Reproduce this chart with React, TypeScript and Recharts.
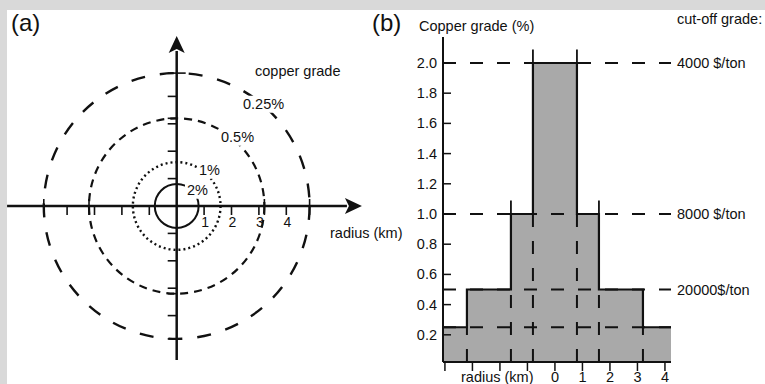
import React from "react"
import {
  Area,
  ComposedChart,
  ReferenceArea,
  ReferenceLine,
  Scatter,
  ScatterChart,
  XAxis,
  YAxis,
} from "recharts"

// (a) plan view: radius (km) where each grade shell ends, and its grade
const zoneRadius = [0.8, 1.6, 3.2, 4.85]
const zoneGrade = ["2%", "1%", "0.5%", "0.25%"]

// tick marks along both map axes (km)
const mapTicks = [-4.85, -4, -3.2, -3, -2, -1, 1, 2, 3, 3.2, 4, 4.85]
const mapTickLabels = [1, 2, 3, 4]

// (b) grade profile through the deposit centre
const profileRadius = [-4.07, -3.2, -1.6, -0.8, 0.8, 1.6, 3.2, 4.22]
const profileGrade = [0.25, 0.5, 1.0, 2.0, 1.0, 0.5, 0.25, 0.25]

// cut-off grades and the copper price that goes with them
const cutoffGrade = [2.0, 1.0, 0.5, 0.25]
const cutoffLabel = ["4000 $/ton", "8000 $/ton", "20000$/ton", ""]

const gradeTicks = [0.2, 0.4, 0.6, 0.8, 1.0, 1.2, 1.4, 1.6, 1.8, 2.0]
const radiusTicks = [-4, -3, -2, -1, 0, 1, 2, 3, 4]

const INK = "#111"
const FONT = "'Liberation Sans', Arial, sans-serif"
const FS = 14.5

const profileData = profileRadius.map((x, i) => ({ x, grade: profileGrade[i] }))
const tickData = [
  ...mapTicks.map((v) => ({ x: v, y: 0, axis: "x", v })),
  ...mapTicks.map((v) => ({ x: 0, y: v, axis: "y", v })),
]

const shellStyle = [
  { dash: undefined, width: 2 },
  { dash: "2 3", width: 2.4 },
  { dash: "8 6", width: 2.2 },
  { dash: "14 15", width: 2.4 },
]

function ArrowLine(p: any) {
  const { x1, y1, x2, y2 } = p
  const len = Math.hypot(x2 - x1, y2 - y1)
  const ux = (x2 - x1) / len
  const uy = (y2 - y1) / len
  const bx = x2 - ux * 17
  const by = y2 - uy * 17
  return (
    <g>
      <line x1={x1} y1={y1} x2={bx + ux * 2} y2={by + uy * 2} stroke={INK} strokeWidth={2.5} />
      <polygon
        points={`${x2},${y2} ${bx - uy * 8},${by + ux * 8} ${bx + ux * 4},${by + uy * 4} ${bx + uy * 8},${by - ux * 8}`}
        fill={INK}
      />
    </g>
  )
}

function MapTick(p: any) {
  const { cx, cy, payload } = p
  const crossing = zoneRadius.includes(Math.abs(payload.v))
  if (payload.axis === "x") {
    return (
      <g>
        <line x1={cx} x2={cx} y1={crossing ? cy - 7 : cy} y2={cy + 9} stroke={INK} strokeWidth={1.6} />
        {mapTickLabels.includes(payload.v) && (
          <text x={cx + 1} y={cy + 16} dy="0.35em" textAnchor="middle" fontSize={14} fill={INK} fontFamily={FONT}>
            {payload.v}
          </text>
        )}
      </g>
    )
  }
  return (
    <line x1={cx - 9} x2={crossing && payload.v > 4 ? cx + 9 : cx} y1={cy} y2={cy} stroke={INK} strokeWidth={1.6} />
  )
}

function GradeTick(p: any) {
  const { x, y, payload } = p
  return (
    <g>
      <line x1={x} x2={x + 8} y1={y} y2={y} stroke={INK} strokeWidth={1.5} />
      <text x={x - 6} y={y} dy="0.35em" textAnchor="end" fontSize={FS} fill={INK} fontFamily={FONT}>
        {Number(payload.value).toFixed(1)}
      </text>
    </g>
  )
}

function Note({
  x,
  y,
  size = FS,
  mask = false,
  children,
}: {
  x: number
  y: number
  size?: number
  mask?: boolean
  children: React.ReactNode
}) {
  return (
    <div
      style={{
        position: "absolute",
        left: x,
        top: y,
        transform: "translateY(-50%)",
        fontSize: size,
        lineHeight: 1,
        whiteSpace: "nowrap",
        color: INK,
        background: mask ? "#fff" : undefined,
        padding: mask ? "1px 2px" : undefined,
        marginLeft: mask ? -2 : undefined,
      }}
    >
      {children}
    </div>
  )
}

export default function App() {
  const yMin = 0.02
  const yMax = 2.172
  return (
    <div
      style={{
        position: "fixed",
        left: 0,
        top: 0,
        width: 765,
        height: 384,
        background: "#d9d9d9",
        fontFamily: FONT,
        overflow: "hidden",
      }}
    >
      <div style={{ position: "absolute", left: 7, top: 10, width: 758, height: 374, background: "#fff" }}>
        <div style={{ position: "absolute", left: 0, top: 0 }}>
          <ScatterChart width={370} height={374} margin={{ top: 0, right: 0, bottom: 0, left: 0 }}>
            <XAxis dataKey="x" type="number" domain={[-6.193, 7.31]} allowDataOverflow hide />
            <YAxis dataKey="y" type="number" domain={[-6.496, 7.153]} allowDataOverflow hide />
            {zoneRadius.map((r, i) => (
              <ReferenceArea
                key={r}
                x1={-r}
                x2={r}
                y1={-r}
                y2={r}
                shape={(s: any) => (
                  <ellipse
                    cx={s.x + s.width / 2}
                    cy={s.y + s.height / 2}
                    rx={Math.abs(s.width) / 2}
                    ry={Math.abs(s.height) / 2}
                    fill="none"
                    stroke={INK}
                    strokeWidth={shellStyle[i].width}
                    strokeDasharray={shellStyle[i].dash}
                  />
                )}
              />
            ))}
            <ReferenceLine
              segment={[{ x: -6.19, y: 0 }, { x: 6.76, y: 0 }]}
              ifOverflow="visible"
              shape={(s: any) => <ArrowLine {...s} />}
            />
            <ReferenceLine
              segment={[{ x: 0, y: -5.62 }, { x: 0, y: 6.2 }]}
              ifOverflow="visible"
              shape={(s: any) => <ArrowLine {...s} />}
            />
            <Scatter data={tickData} isAnimationActive={false} shape={(s: any) => <MapTick {...s} />} />
          </ScatterChart>
        </div>

        <div style={{ position: "absolute", left: 373, top: 0 }}>
          <ComposedChart width={385} height={374} data={profileData} margin={{ top: 27, right: 94, bottom: 0, left: 0 }}>
            <XAxis
              dataKey="x"
              type="number"
              domain={[-4.07, 4.22]}
              allowDataOverflow
              ticks={radiusTicks}
              interval={0}
              height={22}
              tickSize={9}
              tickMargin={1}
              tickFormatter={(v: number) => (v >= 0 ? String(v) : "")}
              tick={{ fill: INK, fontSize: FS, fontFamily: FONT }}
              tickLine={{ stroke: INK, strokeWidth: 1.5 }}
              axisLine={{ stroke: INK, strokeWidth: 2 }}
            />
            <XAxis xAxisId="top" orientation="top" type="number" domain={[0, 1]} height={0} tick={false} tickLine={false} axisLine={{ stroke: INK, strokeWidth: 2 }} />
            <YAxis
              type="number"
              domain={[yMin, yMax]}
              allowDataOverflow
              ticks={gradeTicks}
              interval={0}
              width={63}
              tickSize={0}
              tickMargin={0}
              tickLine={false}
              tick={(t: any) => <GradeTick {...t} />}
              axisLine={{ stroke: INK, strokeWidth: 2 }}
            />
            <YAxis yAxisId="right" orientation="right" type="number" domain={[0, 1]} width={0} tick={false} tickLine={false} axisLine={{ stroke: INK, strokeWidth: 2 }} />
            <Area
              dataKey="grade"
              type="stepAfter"
              baseValue="dataMin"
              fill="#a9a9a9"
              fillOpacity={1}
              stroke={INK}
              strokeWidth={2.2}
              isAnimationActive={false}
            />
            {cutoffGrade.map((g, i) => (
              <ReferenceLine
                key={g}
                y={g}
                stroke={INK}
                strokeWidth={2}
                strokeDasharray="13 14"
                label={cutoffLabel[i] ? { value: cutoffLabel[i], position: "right", offset: 6, fill: INK, fontSize: FS, fontFamily: FONT } : undefined}
              />
            ))}
            {/* projections of the grade shells onto the section */}
            {profileRadius.slice(1, -1).map((x, i) => {
              const g = Math.min(profileGrade[i], profileGrade[i + 1])
              return (
                <ReferenceLine
                  key={x}
                  segment={[{ x, y: yMin }, { x, y: g }]}
                  stroke={INK}
                  strokeWidth={2}
                  strokeDasharray="13 14"
                />
              )
            })}
            {profileRadius.slice(1, -1).map((x, i) => {
              const g = Math.max(profileGrade[i], profileGrade[i + 1])
              if (g < 1) return null
              return (
                <ReferenceLine key={"s" + x} segment={[{ x, y: g }, { x, y: g + 0.09 }]} stroke={INK} strokeWidth={1.8} />
              )
            })}
          </ComposedChart>
        </div>
      </div>

      <Note x={11} y={23} size={24}>(a)</Note>
      <Note x={255} y={71}>copper grade</Note>
      <Note x={243} y={104} mask>{zoneGrade[3]}</Note>
      <Note x={221} y={137} mask>{zoneGrade[2]}</Note>
      <Note x={199} y={170} mask>{zoneGrade[1]}</Note>
      <Note x={187} y={190} mask>{zoneGrade[0]}</Note>
      <Note x={330} y={233}>radius (km)</Note>

      <Note x={372} y={23} size={24}>(b)</Note>
      <Note x={419} y={26}>Copper grade (%)</Note>
      <Note x={677} y={19}>cut-off grade:</Note>
      <Note x={461} y={377}>radius (km)</Note>
    </div>
  )
}
